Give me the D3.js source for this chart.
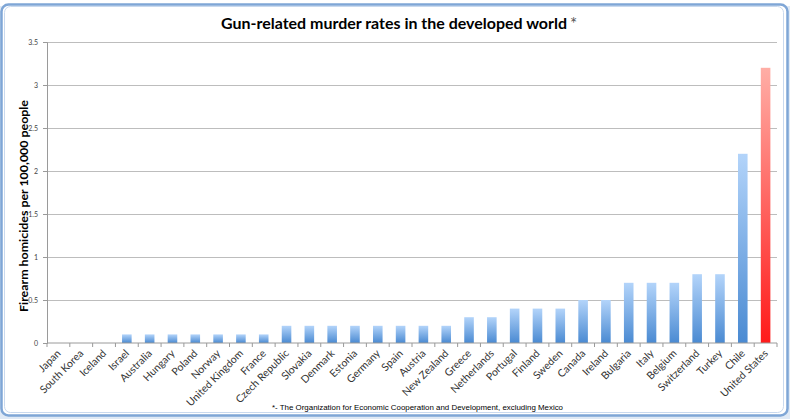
<!DOCTYPE html>
<html><head><meta charset="utf-8">
<script src="https://cdn.jsdelivr.net/npm/d3@7/dist/d3.min.js"></script>
<style>html,body{margin:0;padding:0;background:#fff;}svg{display:block;}</style>
</head><body>
<svg id="c" width="790" height="419"></svg>
<script>
const countries = ["Japan","South Korea","Iceland","Israel","Australia","Hungary","Poland","Norway","United Kingdom","France","Czech Republic","Slovakia","Denmark","Estonia","Germany","Spain","Austria","New Zealand","Greece","Netherlands","Portugal","Finland","Sweden","Canada","Ireland","Bulgaria","Italy","Belgium","Switzerland","Turkey","Chile","United States"];
const rates = [0,0,0,0.1,0.1,0.1,0.1,0.1,0.1,0.1,0.2,0.2,0.2,0.2,0.2,0.2,0.2,0.2,0.3,0.3,0.4,0.4,0.4,0.5,0.5,0.7,0.7,0.7,0.8,0.8,2.2,3.2];
const highlight = ["United States"];
const yTicks = [0,0.5,1,1.5,2,2.5,3,3.5];
const titleText = "Gun-related murder rates in the developed world";
const yTitle = "Firearm homicides per 100,000 people";
const footnote = "*- The Organization for Economic Cooperation and Development, excluding Mexico";

const svg = d3.select("#c");
const W = 790, H = 419;

// spreadsheet-like frame
svg.append("rect").attr("x",0).attr("y",0).attr("width",W).attr("height",H).attr("fill","#dfe9f5");
svg.append("rect").attr("x",0).attr("y",0).attr("width",W).attr("height",6).attr("fill","#ffffff");
svg.append("rect").attr("x",1.5).attr("y",4.5).attr("width",W-4).attr("height",H-8).attr("rx",7)
  .attr("fill","#ffffff").attr("stroke","#7fa6d6").attr("stroke-width",2.5);
svg.append("rect").attr("x",4.5).attr("y",6.5).attr("width",W-11).attr("height",H-13).attr("rx",6)
  .attr("fill","#ffffff").attr("stroke","#c9d9ee").attr("stroke-width",1);

const m = {left:47, right:777, top:42, bottom:343};
const x = d3.scaleBand().domain(countries).range([m.left, m.right]).paddingInner(0.58).paddingOuter(0.29);
const y = d3.scaleLinear().domain([0,3.5]).range([m.bottom, m.top]);

const defs = svg.append("defs");
const gb = defs.append("linearGradient").attr("id","gBlue").attr("x1",0).attr("y1",0).attr("x2",0).attr("y2",1);
gb.append("stop").attr("offset","0%").attr("stop-color","#b3d4fa");
gb.append("stop").attr("offset","100%").attr("stop-color","#4a8ad2");
const gr = defs.append("linearGradient").attr("id","gRed").attr("x1",0).attr("y1",0).attr("x2",0).attr("y2",1);
gr.append("stop").attr("offset","0%").attr("stop-color","#ffaea6");
gr.append("stop").attr("offset","100%").attr("stop-color","#ff1a1a");

// gridlines
svg.append("g").selectAll("line").data(yTicks.filter(d=>d>0)).join("line")
  .attr("x1",m.left).attr("x2",m.right).attr("y1",d=>y(d)).attr("y2",d=>y(d))
  .attr("stroke","#bdbdbd").attr("stroke-width",1).attr("shape-rendering","crispEdges");

// y axis
const yAxis = d3.axisLeft(y).tickValues(yTicks).tickSize(4).tickFormat(d=>d);
const ya = svg.append("g").attr("transform",`translate(${m.left},0)`).call(yAxis);
ya.select(".domain").attr("stroke","#9a9a9a");
ya.selectAll(".tick line").attr("stroke","#9a9a9a");
ya.selectAll("text").attr("font-family","Lato, 'DejaVu Sans', sans-serif").attr("font-size",7).attr("fill","#444").attr("dx",-2);

// bars
svg.append("g").selectAll("rect").data(countries).join("rect")
  .attr("x",(d)=>x(d)).attr("width",x.bandwidth())
  .attr("y",(d,i)=>y(rates[i])).attr("height",(d,i)=>y(0)-y(rates[i]))
  .attr("fill",d=>highlight.includes(d)?"url(#gRed)":"url(#gBlue)");

// x axis
const step = x.step();
const xa = svg.append("g").attr("transform",`translate(0,${m.bottom})`);
xa.append("line").attr("x1",m.left).attr("x2",m.right).attr("y1",0).attr("y2",0).attr("stroke","#9a9a9a");
const bounds = countries.map(c=>x(c) - (step - x.bandwidth())/2).concat([m.right]);
xa.selectAll("line.tk").data(bounds).join("line").attr("class","tk")
  .attr("x1",d=>d).attr("x2",d=>d).attr("y1",0).attr("y2",4).attr("stroke","#9a9a9a");
xa.selectAll("text").data(countries).join("text")
  .attr("transform",d=>`translate(${x(d)+x.bandwidth()/2+3},${11}) rotate(-45)`)
  .attr("text-anchor","end")
  .attr("font-family","Lato, 'DejaVu Sans', sans-serif").attr("font-size",10.5).attr("fill","#333")
  .text(d=>d);

// title
svg.append("text").attr("x",221).attr("y",29).attr("text-anchor","start")
  .attr("textLength",346).attr("lengthAdjust","spacingAndGlyphs")
  .attr("font-family","Lato, 'Open Sans', sans-serif").attr("font-weight","bold").attr("font-size",16).attr("fill","#000")
  .text(titleText);
svg.append("text").attr("x",570).attr("y",30).attr("font-family","Lato, sans-serif").attr("font-size",17).attr("fill","#555").text("*");

// y title
svg.append("text").attr("transform",`translate(28,206) rotate(-90)`).attr("text-anchor","middle")
  .attr("textLength",212).attr("lengthAdjust","spacingAndGlyphs")
  .attr("font-family","Lato, 'Open Sans', sans-serif").attr("font-weight","bold").attr("font-size",12).attr("fill","#000")
  .text(yTitle);

// footnote
svg.append("text").attr("x",272).attr("y",410).attr("text-anchor","start")
  .attr("textLength",291).attr("lengthAdjust","spacingAndGlyphs")
  .attr("font-family","'Liberation Sans', Arial, sans-serif").attr("font-size",8).attr("fill","#000")
  .text(footnote);
</script>
</body></html>
